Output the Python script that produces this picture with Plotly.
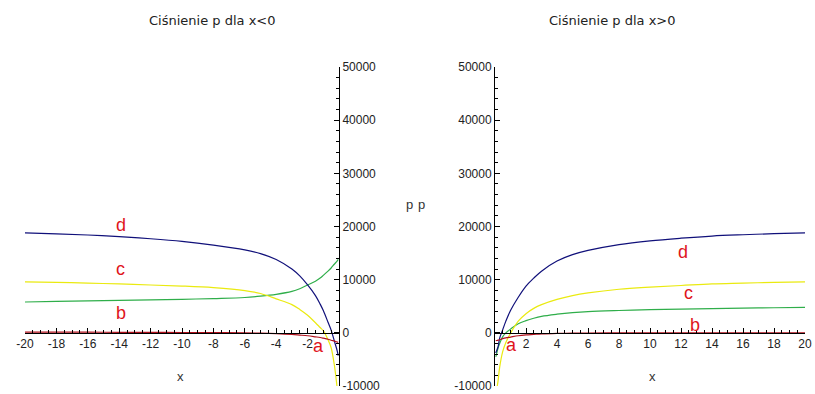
import plotly.graph_objects as go

# ---------------- data ----------------
x_left = [-20, -18, -16, -14, -12, -10, -8, -6, -5, -4, -3, -2.5, -2, -1.5, -1.2, -1, -0.7, -0.5, -0.3, -0.15, -0.1, -0.05]
a_left = [150, 140, 120, 100, 80, 60, 30, 0, -60, -150, -300, -420, -550, -750, -880, -1000, -1200, -1400, -1550, -1700, -1750, -1800]
b_left = [5800, 5900, 6000, 6100, 6200, 6300, 6450, 6650, 6900, 7250, 7800, 8300, 9000, 9700, 10300, 10800, 11600, 12200, 12900, 13400, 13600, 13800]
c_left = [9600, 9500, 9350, 9200, 9000, 8800, 8500, 7950, 7400, 6400, 5300, 4400, 3300, 1900, 1000, 400, -1300, -2800, -6000, -9500, -11000, -12500]
d_left = [18800, 18600, 18400, 18100, 17700, 17200, 16500, 15600, 14900, 13800, 12000, 10700, 9000, 7000, 5400, 4200, 2000, 500, -1500, -3000, -3600, -4300]

x_right = [0.05, 0.1, 0.2, 0.3, 0.5, 0.7, 1, 1.5, 2, 2.5, 3, 4, 5, 6, 8, 10, 12, 14, 16, 18, 20]
a_right = [-1500, -1450, -1380, -1300, -1100, -950, -800, -550, -400, -300, -200, -100, -60, -30, -10, 0, 0, 0, 0, 0, 0]
b_right = [-4500, -4000, -2800, -2000, -700, 0, 700, 1700, 2300, 2750, 3100, 3500, 3800, 4000, 4200, 4350, 4450, 4550, 4650, 4720, 4800]
c_right = [-13000, -11000, -9000, -6500, -3500, -1800, -100, 2200, 3600, 4600, 5300, 6300, 7000, 7500, 8200, 8600, 8900, 9200, 9350, 9500, 9600]
d_right = [-3800, -3400, -2600, -1000, 600, 2200, 4200, 6700, 8800, 10300, 11600, 13500, 14700, 15500, 16600, 17300, 17800, 18200, 18450, 18650, 18800]

left_xticks = [-20, -18, -16, -14, -12, -10, -8, -6, -4, -2]
left_xtext = ["-20", "-18", "-16", "-14", "-12", "-10", "-8", "-6", "-4", "-2"]
right_xticks = [2, 4, 6, 8, 10, 12, 14, 16, 18, 20]
right_xtext = ["2", "4", "6", "8", "10", "12", "14", "16", "18", "20"]
yticks = [-10000, 0, 10000, 20000, 30000, 40000, 50000]
ytext = ["-10000", "0", "10000", "20000", "30000", "40000", "50000"]

labels = ["a", "b", "c", "d"]
label_left_pos = [(-1.3, -2500), (-13.9, 3650), (-13.9, 12100), (-13.9, 20200)]
label_right_pos = [(1.07, -2300), (12.9, 1500), (12.5, 7500), (12.1, 15200)]

titles = ["Ciśnienie p dla x&lt;0", "Ciśnienie p dla x&gt;0"]

# ---------------- styling ----------------
W, H = 815, 394
colors = {"a": "#b0101c", "b": "#2fae4a", "c": "#eaea10", "d": "#10107a"}
yrange = [-10000, 50000]
ydom = [(H - 386) / H, (H - 67) / H]
xdom_left = [25 / W, 339 / W]
xdom_right = [495 / W, 805 / W]
x_axis_pos = ydom[0] + (ydom[1] - ydom[0]) * (0 - yrange[0]) / (yrange[1] - yrange[0])
font_tick = dict(family="Liberation Sans, Arial", size=12, color="#222")

fig = go.Figure()
series_left = {"a": a_left, "b": b_left, "c": c_left, "d": d_left}
series_right = {"a": a_right, "b": b_right, "c": c_right, "d": d_right}
for k in ["b", "c", "d", "a"]:
    fig.add_trace(go.Scatter(x=x_left, y=series_left[k], mode="lines",
                             line=dict(color=colors[k], width=1.2, shape="spline"),
                             xaxis="x", yaxis="y", showlegend=False))
    fig.add_trace(go.Scatter(x=x_right, y=series_right[k], mode="lines",
                             line=dict(color=colors[k], width=1.2, shape="spline"),
                             xaxis="x2", yaxis="y2", showlegend=False))

common_x = dict(showgrid=False, zeroline=False, showline=True, linecolor="black", linewidth=1,
                ticks="inside", ticklen=5, tickcolor="black", tickfont=font_tick,
                anchor="free", position=x_axis_pos, ticklabeloverflow="allow", automargin=False,
                minor=dict(dtick=0.5, ticklen=3, ticks="inside", tickcolor="black", showgrid=False))
common_y = dict(showgrid=False, zeroline=False, showline=True, linecolor="black", linewidth=1,
                ticks="inside", ticklen=5, tickcolor="black", tickfont=font_tick,
                range=yrange, domain=ydom, tickvals=yticks, ticktext=ytext,
                ticklabeloverflow="allow", automargin=False,
                minor=dict(dtick=2000, ticklen=3, ticks="inside", tickcolor="black", showgrid=False))

fig.update_layout(
    width=W, height=H,
    margin=dict(l=0, r=0, t=0, b=0, autoexpand=False),
    paper_bgcolor="white", plot_bgcolor="white",
    xaxis=dict(common_x, range=[-20, 0], domain=xdom_left, tickvals=left_xticks, ticktext=left_xtext),
    yaxis=dict(common_y, anchor="x", side="right"),
    xaxis2=dict(common_x, range=[0, 20], domain=xdom_right, tickvals=right_xticks, ticktext=right_xtext),
    yaxis2=dict(common_y, anchor="x2", side="left"),
)

ann = []
lab_font = dict(family="Liberation Sans, Arial", size=18, color="#e0141c")
for lab, (xx, yy) in zip(labels, label_left_pos):
    ann.append(dict(x=xx, y=yy, xref="x", yref="y", text=lab, showarrow=False, font=lab_font,
                    xanchor="center", yanchor="middle"))
for lab, (xx, yy) in zip(labels, label_right_pos):
    ann.append(dict(x=xx, y=yy, xref="x2", yref="y2", text=lab, showarrow=False, font=lab_font,
                    xanchor="center", yanchor="middle"))

title_font = dict(family="DejaVu Sans", size=13, color="#222")
small = dict(family="Liberation Sans, Arial", size=13, color="#333")
for t, px in zip(titles, [212, 612]):
    ann.append(dict(x=px / W, y=1 - 20 / H, xref="paper", yref="paper", text=t,
                    showarrow=False, font=title_font, xanchor="center", yanchor="middle"))
for t, px, py in [("p", 409, 205), ("p", 421, 205), ("x", 180, 376), ("x", 652, 376)]:
    ann.append(dict(x=px / W, y=1 - py / H, xref="paper", yref="paper", text=t,
                    showarrow=False, font=small, xanchor="center", yanchor="middle"))
fig.update_layout(annotations=ann)

fig.write_html("out.html")
